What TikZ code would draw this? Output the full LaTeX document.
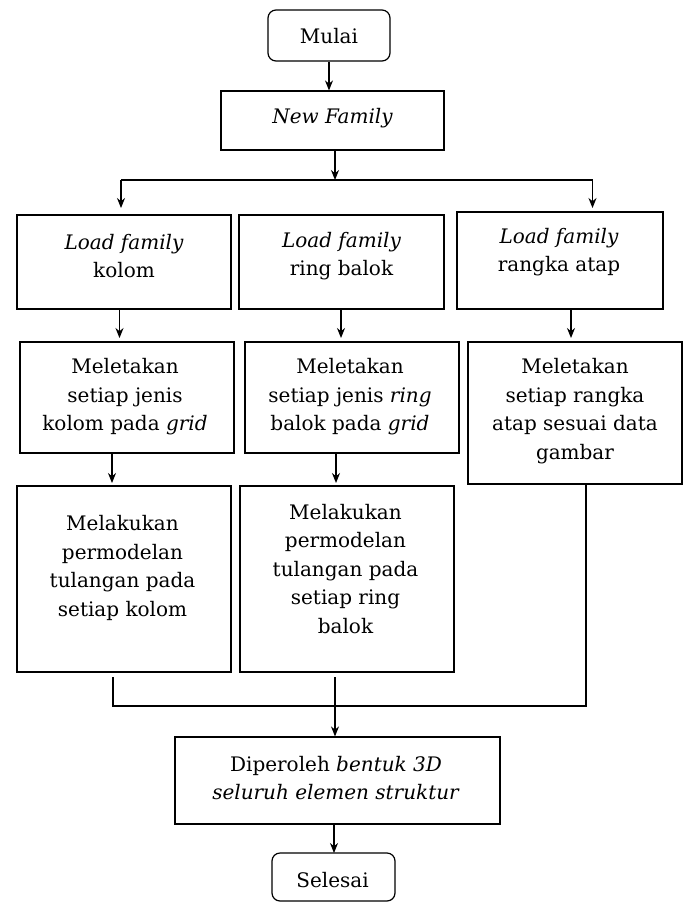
\documentclass[tikz,border=0pt]{standalone}
\usepackage{fontspec}
\setmainfont{DejaVu Serif}
\usetikzlibrary{arrows.meta}
\begin{document}
\begin{tikzpicture}[x=1pt,y=-1pt,
  line width=1.2pt,
  box/.style={draw, rectangle, inner sep=0pt},
  term/.style={draw, rectangle, rounded corners=8pt, inner sep=0pt},
  txt/.style={align=center, inner sep=0pt, font=\fontsize{20}{28.5}\selectfont},
  arr/.style={-{Stealth[length=10pt,width=8pt]}}]
\useasboundingbox (0,0) rectangle (684,903);

% terminals and process boxes
\node[term, minimum width=122pt, minimum height=51pt] (start) at (329,35.5) {};
\node[txt] (startT) at (329,36) {Mulai};
\node[box, minimum width=223pt, minimum height=59pt] (nf) at (332.5,120.5) {};
\node[txt] (nfT) at (332.5,118) {\itshape New Family};

\node[box, minimum width=214pt, minimum height=94pt] (la) at (124,262) {};
\node[txt] (laT) at (124,256) {\itshape Load family\\kolom};
\node[box, minimum width=205pt, minimum height=94pt] (lb) at (341.5,262) {};
\node[txt] (lbT) at (341.5,256) {\itshape Load family\\ring balok};
\node[box, minimum width=206pt, minimum height=97pt] (lc) at (560,260.5) {};
\node[txt] (lcT) at (559,252) {\itshape Load family\\rangka atap};

\node[box, minimum width=214pt, minimum height=111pt] (pa) at (127,397.5) {};
\node[txt] (paT) at (125,397) {Meletakan\\setiap jenis\\kolom pada \textit{grid}};
\node[box, minimum width=214pt, minimum height=111pt] (pb) at (352,397.5) {};
\node[txt] (pbT) at (350,397) {Meletakan\\setiap jenis \textit{ring}\\balok pada \textit{grid}};
\node[box, minimum width=214pt, minimum height=142pt] (pc) at (575,413) {};
\node[txt] (pcT) at (575,411) {Meletakan\\setiap rangka\\atap sesuai data\\gambar};

\node[box, minimum width=214pt, minimum height=186pt] (ma) at (124,579) {};
\node[txt] (maT) at (122.5,568) {Melakukan\\permodelan\\tulangan pada\\setiap kolom};
\node[box, minimum width=214pt, minimum height=186pt] (mb) at (347,579) {};
\node[txt] (mbT) at (345.5,569) {Melakukan\\permodelan\\tulangan pada\\setiap ring\\balok};

\node[box, minimum width=325pt, minimum height=87pt] (res) at (337.5,780.5) {};
\node[txt] (resT) at (336,778) {Diperoleh \textit{bentuk 3D}\\\textit{seluruh elemen struktur}};
\node[term, minimum width=123pt, minimum height=48pt] (end) at (333.5,877) {};
\node[txt] (endT) at (332.5,880) {Selesai};

% branch points
\coordinate (split) at (335,180);
\coordinate (sl) at (121,180);
\coordinate (sr) at (592.5,180);
\coordinate (ja) at (113,677);
\coordinate (jb) at (335,677);
\coordinate (jl) at (113,706);
\coordinate (jr) at (586,706);

% connectors
\draw[arr] (start.south) -- (start.south |- nf.north);
\draw[arr] (nf.south -| split) -- (split);
\draw (sl) -- (sr);
\draw[arr] (sl) -- ++(0,28);
\draw[arr] (sr) -- ++(0,28);

\draw[arr] (119.5,309) -- (119.5,338);
\draw[arr] (341,309) -- (341,338);
\draw[arr] (571,309) -- (571,338);

\draw[arr] (112,453) -- (112,483);
\draw[arr] (336,453) -- (336,483);

\draw (ja) -- (jl) -- (jr) -- (jr |- pc.south);
\draw[arr] (jb) -- (jb |- res.north);
\draw[arr] (res.south -| 334,0) -- (334,853);
\end{tikzpicture}
\end{document}
